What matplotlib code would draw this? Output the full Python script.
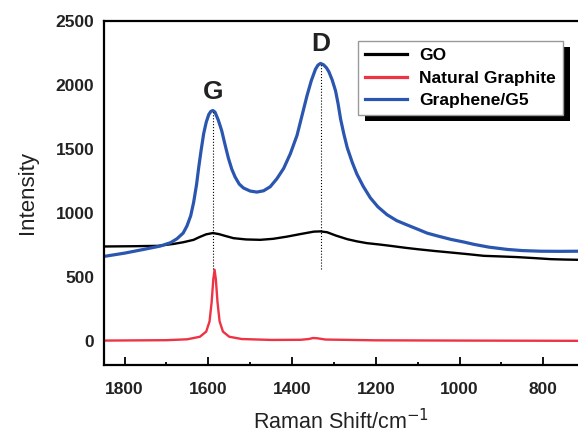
import numpy as np
import matplotlib
matplotlib.use("Agg")
import matplotlib.pyplot as plt
import matplotlib.patheffects as pe
from matplotlib.ticker import MultipleLocator

plt.rcParams['font.family'] = ['Liberation Sans', 'DejaVu Sans']

# Graphene/G5 spectrum
blue_x = [1850, 1800, 1750, 1715, 1690, 1675, 1660, 1651, 1642, 1635, 1628, 1623,
          1617, 1611, 1605, 1599, 1594, 1589, 1584, 1576, 1568, 1560, 1552, 1544,
          1536, 1526, 1516, 1500, 1484, 1468, 1452, 1436, 1420, 1404, 1388, 1376,
          1364, 1354, 1344, 1338, 1332, 1325, 1318, 1312, 1304, 1296, 1290, 1284,
          1276, 1268, 1256, 1245, 1230, 1213, 1195, 1173, 1150, 1125, 1100, 1077,
          1050, 1020, 990, 966, 930, 886, 850, 806, 760, 718]
blue_y = [657, 683, 715, 738, 765, 795, 840, 895, 975, 1080, 1220, 1350,
          1490, 1617, 1705, 1765, 1790, 1797, 1785, 1721, 1640, 1530, 1425, 1340,
          1278, 1222, 1192, 1168, 1160, 1170, 1202, 1265, 1345, 1460, 1604, 1760,
          1916, 2030, 2120, 2152, 2165, 2155, 2132, 2100, 2035, 1950, 1850, 1730,
          1610, 1505, 1390, 1300, 1205, 1115, 1045, 983, 937, 903, 870, 839,
          815, 790, 770, 752, 730, 712, 703, 698, 697, 698]

# GO spectrum
black_x = [1850, 1780, 1720, 1683, 1660, 1635, 1620, 1605, 1589, 1575, 1560, 1540,
           1510, 1476, 1445, 1412, 1380, 1348, 1332, 1316, 1295, 1268, 1245, 1221,
           1190, 1165, 1130, 1101, 1060, 1021, 980, 942, 900, 862, 820, 782, 750, 718]
black_y = [735, 737, 740, 755, 768, 787, 810, 830, 840, 832, 818, 800,
           790, 787, 795, 812, 832, 851, 853, 846, 820, 792, 775, 761,
           750, 740, 725, 714, 700, 688, 675, 662, 657, 652, 644, 636, 633, 631]

# Natural graphite spectrum
red_x = [1850, 1700, 1650, 1620, 1605, 1597, 1592, 1588, 1585, 1582, 1578, 1573,
         1565, 1550, 1520, 1450, 1380, 1360, 1350, 1340, 1320, 1200, 1000, 718]
red_y = [0, 3, 10, 30, 70, 150, 300, 480, 553, 480, 300, 150,
         70, 30, 12, 5, 6, 12, 20, 18, 8, 2, 0, -2]

peak_pos = [1589, 1332]
peak_names = ['G', 'D']
peak_top = [1795, 2163]
label_y = [1940, 2320]

fig = plt.figure(figsize=(5.78, 4.37), dpi=100)
ax = fig.add_axes([0.18, 0.165, 0.82, 0.788])

ax.plot(black_x, black_y, color='black', lw=1.7, label='GO')
ax.plot(red_x, red_y, color='#ee3344', lw=1.7, label='Natural Graphite')
ax.plot(blue_x, blue_y, color='#2a56b0', lw=2.3, label='Graphene/G5')

for xp, top, name, ly in zip(peak_pos, peak_top, peak_names, label_y):
    ax.plot([xp, xp], [560, top], color='black', lw=0.8, ls=':')
    ax.text(xp, ly, name, ha='center', va='center', fontsize=19, fontweight='bold',
            color='#222222')

ax.set_xlim(1849, 717)
ax.set_ylim(-190, 2500)
ax.xaxis.set_major_locator(MultipleLocator(200))
ax.xaxis.set_minor_locator(MultipleLocator(100))
ax.yaxis.set_major_locator(MultipleLocator(500))
ax.tick_params(axis='x', which='major', direction='in', length=6, width=1.3,
               labelsize=12.5, pad=12)
ax.tick_params(axis='x', which='minor', direction='in', length=2.5, width=1.3)
ax.tick_params(axis='y', which='both', length=0, labelsize=12.5, pad=7)
for lab in ax.get_xticklabels() + ax.get_yticklabels():
    lab.set_fontweight('bold')
    lab.set_color('#222222')

for s in ['left', 'bottom', 'top']:
    ax.spines[s].set_linewidth(1.6)
ax.spines['right'].set_visible(False)

ax.set_xlabel('Raman Shift/cm$^{-1}$', fontsize=15.5, labelpad=9, color='#222222')
ax.set_ylabel('Intensity', fontsize=16, labelpad=13, color='#222222')

leg = ax.legend(loc='upper right', bbox_to_anchor=(0.968, 0.94), fancybox=False,
                prop={'weight': 'bold', 'size': 12.5}, handlelength=2.4,
                labelspacing=0.42, borderpad=0.4, handletextpad=0.7,
                borderaxespad=0)
leg.get_frame().set_edgecolor('#999999')
leg.get_frame().set_linewidth(1.0)
leg.get_frame().set_alpha(1)
leg.legendPatch.set_path_effects([
    pe.SimplePatchShadow(offset=(5, -4.5), shadow_rgbFace='black', alpha=1),
    pe.Normal()])
for line in leg.get_lines():
    line.set_linewidth(2.3)

fig.savefig('out.png', dpi=100)
